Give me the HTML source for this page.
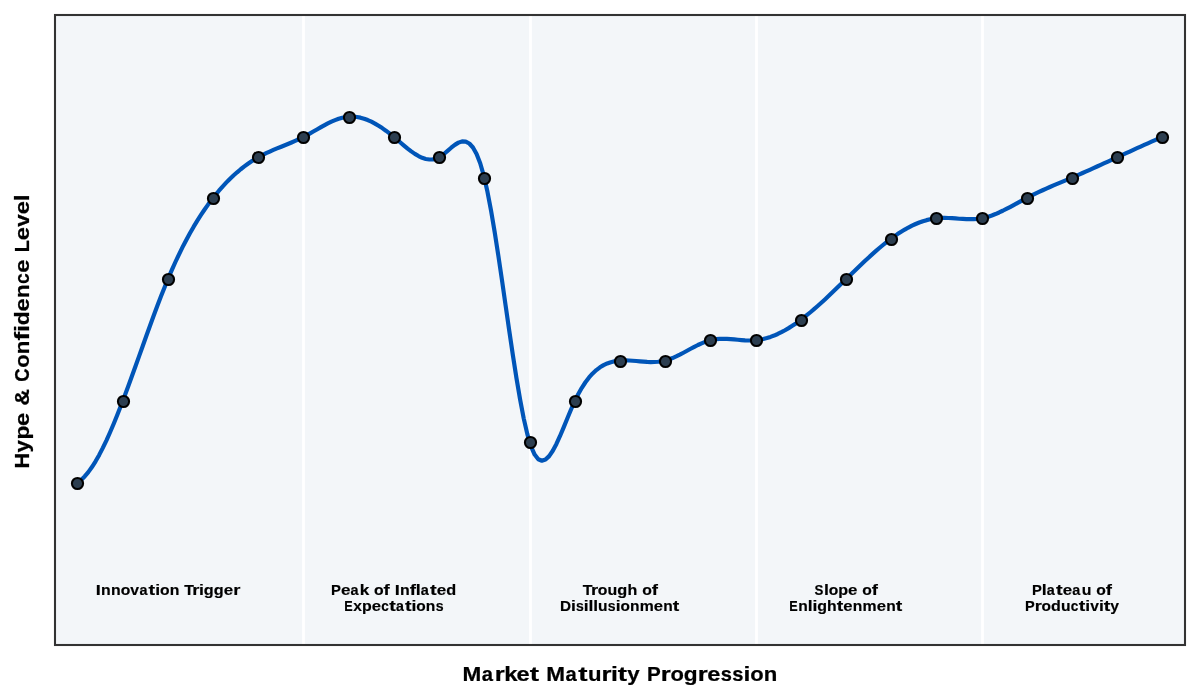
<!DOCTYPE html>
<html><head><meta charset="utf-8"><title>Hype Cycle</title>
<style>
html,body{margin:0;padding:0;background:#fff;}
body{width:1200px;height:700px;overflow:hidden;}
svg{display:block;will-change:transform;}
text{font-family:"Liberation Sans",sans-serif;font-weight:bold;fill:#000;stroke:#000;}
g.s text{stroke-width:0.16px;}
g.b text{stroke-width:0.22px;}
</style></head>
<body>
<svg width="1200" height="700" viewBox="0 0 1200 700">
<rect x="0" y="0" width="1200" height="700" fill="#fff"/>
<rect x="55" y="15" width="1130" height="630" fill="#f3f6f9"/>
<g stroke="#fff" stroke-width="2.78">
<line x1="303.5" y1="15" x2="303.5" y2="645"/>
<line x1="530.5" y1="15" x2="530.5" y2="645"/>
<line x1="756.5" y1="15" x2="756.5" y2="645"/>
<line x1="982.5" y1="15" x2="982.5" y2="645"/>
</g>
<polyline fill="none" stroke="#0055b8" stroke-width="4.17" stroke-linejoin="round" stroke-linecap="butt" points="77.44,482.54 81.07,479.93 84.69,476.44 88.32,472.15 91.95,467.09 95.58,461.33 99.21,454.90 102.84,447.88 106.47,440.31 110.09,432.24 113.72,423.72 117.35,414.81 120.98,405.57 124.61,396.04 128.24,386.27 131.87,376.32 135.49,366.25 139.12,356.10 142.75,345.93 146.38,335.79 150.01,325.73 153.64,315.81 157.27,306.08 160.90,296.59 164.52,287.39 168.15,278.54 171.78,270.08 175.41,262.00 179.04,254.29 182.67,246.94 186.30,239.94 189.92,233.27 193.55,226.93 197.18,220.91 200.81,215.19 204.44,209.75 208.07,204.60 211.70,199.72 215.32,195.09 218.95,190.71 222.58,186.57 226.21,182.66 229.84,178.98 233.47,175.53 237.10,172.29 240.72,169.25 244.35,166.42 247.98,163.78 251.61,161.33 255.24,159.05 258.87,156.96 262.50,155.02 266.13,153.23 269.75,151.55 273.38,149.96 277.01,148.44 280.64,146.95 284.27,145.48 287.90,144.01 291.53,142.49 295.15,140.92 298.78,139.27 302.41,137.51 306.04,135.61 309.67,133.61 313.30,131.54 316.93,129.45 320.55,127.37 324.18,125.36 327.81,123.45 331.44,121.68 335.07,120.11 338.70,118.77 342.33,117.71 345.96,116.96 349.58,116.58 353.21,116.58 356.84,116.95 360.47,117.67 364.10,118.71 367.73,120.06 371.36,121.70 374.98,123.60 378.61,125.74 382.24,128.11 385.87,130.68 389.50,133.43 393.13,136.34 396.76,139.39 400.38,142.50 404.01,145.60 407.64,148.59 411.27,151.39 414.90,153.91 418.53,156.07 422.16,157.79 425.79,158.96 429.41,159.51 433.04,159.36 436.67,158.41 440.30,156.59 443.93,153.97 447.56,150.90 451.19,147.74 454.81,144.87 458.44,142.64 462.07,141.42 465.70,141.58 469.33,143.48 472.96,147.49 476.59,153.97 480.21,163.29 483.84,175.81 487.47,191.80 491.10,210.85 494.73,232.36 498.36,255.71 501.99,280.28 505.61,305.44 509.24,330.58 512.87,355.09 516.50,378.34 520.13,399.72 523.76,418.60 527.39,434.37 531.02,446.42 534.64,454.59 538.27,459.23 541.90,460.77 545.53,459.60 549.16,456.13 552.79,450.77 556.42,443.92 560.04,435.99 563.67,427.38 567.30,418.50 570.93,409.76 574.56,401.56 578.19,394.23 581.82,387.81 585.44,382.25 589.07,377.47 592.70,373.43 596.33,370.06 599.96,367.30 603.59,365.11 607.22,363.41 610.85,362.16 614.47,361.29 618.10,360.74 621.73,360.47 625.36,360.40 628.99,360.51 632.62,360.73 636.25,361.03 639.87,361.36 643.50,361.67 647.13,361.91 650.76,362.05 654.39,362.02 658.02,361.79 661.65,361.31 665.27,360.54 668.90,359.43 672.53,358.05 676.16,356.43 679.79,354.64 683.42,352.73 687.05,350.76 690.67,348.78 694.30,346.84 697.93,345.01 701.56,343.33 705.19,341.86 708.82,340.66 712.45,339.77 716.08,339.20 719.70,338.90 723.33,338.82 726.96,338.92 730.59,339.14 734.22,339.44 737.85,339.77 741.48,340.08 745.10,340.33 748.73,340.46 752.36,340.44 755.99,340.21 759.62,339.73 763.25,339.02 766.88,338.08 770.50,336.92 774.13,335.55 777.76,333.97 781.39,332.21 785.02,330.26 788.65,328.13 792.28,325.85 795.91,323.40 799.53,320.81 803.16,318.09 806.79,315.23 810.42,312.26 814.05,309.19 817.68,306.02 821.31,302.77 824.93,299.44 828.56,296.05 832.19,292.61 835.82,289.12 839.45,285.61 843.08,282.07 846.71,278.52 850.33,274.98 853.96,271.45 857.59,267.94 861.22,264.46 864.85,261.04 868.48,257.67 872.11,254.36 875.73,251.14 879.36,248.01 882.99,244.99 886.62,242.07 890.25,239.28 893.88,236.63 897.51,234.12 901.14,231.77 904.76,229.57 908.39,227.54 912.02,225.69 915.65,224.01 919.28,222.53 922.91,221.24 926.54,220.15 930.16,219.27 933.79,218.61 937.42,218.18 941.05,217.95 944.68,217.91 948.31,218.00 951.94,218.20 955.56,218.44 959.19,218.71 962.82,218.95 966.45,219.12 970.08,219.20 973.71,219.12 977.34,218.87 980.97,218.38 984.59,217.64 988.22,216.65 991.85,215.44 995.48,214.04 999.11,212.47 1002.74,210.76 1006.37,208.94 1009.99,207.04 1013.62,205.08 1017.25,203.09 1020.88,201.11 1024.51,199.15 1028.14,197.25 1031.77,195.41 1035.39,193.64 1039.02,191.92 1042.65,190.25 1046.28,188.62 1049.91,187.03 1053.54,185.46 1057.17,183.91 1060.80,182.37 1064.42,180.84 1068.05,179.30 1071.68,177.75 1075.31,176.19 1078.94,174.61 1082.57,173.01 1086.20,171.40 1089.82,169.78 1093.45,168.15 1097.08,166.51 1100.71,164.85 1104.34,163.20 1107.97,161.53 1111.60,159.87 1115.22,158.20 1118.85,156.53 1122.48,154.86 1126.11,153.20 1129.74,151.53 1133.37,149.87 1137.00,148.22 1140.62,146.58 1144.25,144.95 1147.88,143.32 1151.51,141.71 1155.14,140.11 1158.77,138.53 1162.40,136.97"/>
<g fill="#2c3e50" stroke="#000" stroke-width="2.08">
<circle cx="77.5" cy="483.5" r="5.56"/>
<circle cx="123.5" cy="401.5" r="5.56"/>
<circle cx="168.5" cy="279.5" r="5.56"/>
<circle cx="213.5" cy="198.5" r="5.56"/>
<circle cx="258.5" cy="157.5" r="5.56"/>
<circle cx="303.5" cy="137.5" r="5.56"/>
<circle cx="349.5" cy="117.5" r="5.56"/>
<circle cx="394.5" cy="137.5" r="5.56"/>
<circle cx="439.5" cy="157.5" r="5.56"/>
<circle cx="484.5" cy="178.5" r="5.56"/>
<circle cx="530.5" cy="442.5" r="5.56"/>
<circle cx="575.5" cy="401.5" r="5.56"/>
<circle cx="620.5" cy="361.5" r="5.56"/>
<circle cx="665.5" cy="361.5" r="5.56"/>
<circle cx="710.5" cy="340.5" r="5.56"/>
<circle cx="756.5" cy="340.5" r="5.56"/>
<circle cx="801.5" cy="320.5" r="5.56"/>
<circle cx="846.5" cy="279.5" r="5.56"/>
<circle cx="891.5" cy="239.5" r="5.56"/>
<circle cx="936.5" cy="218.5" r="5.56"/>
<circle cx="982.5" cy="218.5" r="5.56"/>
<circle cx="1027.5" cy="198.5" r="5.56"/>
<circle cx="1072.5" cy="178.5" r="5.56"/>
<circle cx="1117.5" cy="157.5" r="5.56"/>
<circle cx="1162.5" cy="137.5" r="5.56"/>
</g>
<rect x="55" y="15" width="1130" height="630" fill="none" stroke="#333" stroke-width="2.08"/>
<g class="s" font-size="13.889" transform="translate(0 595.00)"><text transform="translate(95.79 0) scale(1.305 1.060)">I</text><text transform="translate(101.02 0) scale(1.139 1.040)">n</text><text transform="translate(110.91 0) scale(1.139 1.040)">n</text><text transform="translate(120.66 0) scale(1.129 1.041)">o</text><text transform="translate(130.37 0) scale(1.136 1.035)">v</text><text transform="translate(139.45 0) scale(1.038 1.041)">a</text><text transform="translate(148.59 0) scale(1.432 1.076)">t</text><text transform="translate(155.22 0) scale(1.274 1.049)">i</text><text transform="translate(160.03 0) scale(1.129 1.041)">o</text><text transform="translate(169.72 0) scale(1.139 1.040)">n</text><text transform="translate(184.21 0) scale(1.141 1.060)">T</text><text transform="translate(192.23 0) scale(1.319 1.040)">r</text><text transform="translate(199.05 0) scale(1.274 1.049)">i</text><text transform="translate(203.84 0) scale(1.167 1.038)">g</text><text transform="translate(213.78 0) scale(1.167 1.038)">g</text><text transform="translate(223.71 0) scale(1.216 1.041)">e</text><text transform="translate(233.15 0) scale(1.319 1.040)">r</text></g>
<g class="s" font-size="13.889" transform="translate(0 595.00)"><text transform="translate(331.01 0) scale(1.067 1.060)">P</text><text transform="translate(340.90 0) scale(1.223 1.041)">e</text><text transform="translate(350.61 0) scale(1.044 1.041)">a</text><text transform="translate(359.84 0) scale(1.239 1.049)">k</text><text transform="translate(374.01 0) scale(1.135 1.041)">o</text><text transform="translate(383.57 0) scale(1.345 1.049)">f</text><text transform="translate(394.63 0) scale(1.313 1.060)">I</text><text transform="translate(399.89 0) scale(1.145 1.040)">n</text><text transform="translate(409.66 0) scale(1.345 1.049)">f</text><text transform="translate(415.72 0) scale(1.282 1.049)">l</text><text transform="translate(420.76 0) scale(1.044 1.041)">a</text><text transform="translate(429.95 0) scale(1.441 1.076)">t</text><text transform="translate(436.63 0) scale(1.223 1.041)">e</text><text transform="translate(446.13 0) scale(1.172 1.049)">d</text></g>
<g class="s" font-size="13.889" transform="translate(0 611.00)"><text transform="translate(344.15 0) scale(0.912 1.060)">E</text><text transform="translate(353.21 0) scale(1.120 1.035)">x</text><text transform="translate(362.06 0) scale(1.150 1.038)">p</text><text transform="translate(371.72 0) scale(1.200 1.041)">e</text><text transform="translate(381.14 0) scale(0.978 1.041)">c</text><text transform="translate(389.16 0) scale(1.414 1.076)">t</text><text transform="translate(395.95 0) scale(1.025 1.041)">a</text><text transform="translate(404.97 0) scale(1.414 1.076)">t</text><text transform="translate(411.52 0) scale(1.258 1.049)">i</text><text transform="translate(416.28 0) scale(1.114 1.041)">o</text><text transform="translate(425.84 0) scale(1.125 1.040)">n</text><text transform="translate(435.70 0) scale(1.021 1.040)">s</text></g>
<g class="s" font-size="13.889" transform="translate(0 595.00)"><text transform="translate(582.82 0) scale(1.148 1.060)">T</text><text transform="translate(590.89 0) scale(1.327 1.040)">r</text><text transform="translate(597.81 0) scale(1.135 1.041)">o</text><text transform="translate(607.53 0) scale(1.146 1.035)">u</text><text transform="translate(617.33 0) scale(1.174 1.038)">g</text><text transform="translate(627.43 0) scale(1.155 1.049)">h</text><text transform="translate(642.18 0) scale(1.135 1.041)">o</text><text transform="translate(651.74 0) scale(1.345 1.049)">f</text></g>
<g class="s" font-size="13.889" transform="translate(0 611.00)"><text transform="translate(559.98 0) scale(1.100 1.060)">D</text><text transform="translate(571.01 0) scale(1.253 1.049)">i</text><text transform="translate(575.97 0) scale(1.016 1.040)">s</text><text transform="translate(583.82 0) scale(1.253 1.049)">i</text><text transform="translate(588.50 0) scale(1.253 1.049)">l</text><text transform="translate(593.19 0) scale(1.253 1.049)">l</text><text transform="translate(598.04 0) scale(1.119 1.035)">u</text><text transform="translate(607.87 0) scale(1.016 1.040)">s</text><text transform="translate(615.72 0) scale(1.253 1.049)">i</text><text transform="translate(620.45 0) scale(1.109 1.041)">o</text><text transform="translate(629.97 0) scale(1.119 1.040)">n</text><text transform="translate(639.66 0) scale(1.137 1.040)">m</text><text transform="translate(653.74 0) scale(1.195 1.041)">e</text><text transform="translate(663.19 0) scale(1.119 1.040)">n</text><text transform="translate(672.73 0) scale(1.408 1.076)">t</text></g>
<g class="s" font-size="13.889" transform="translate(0 595.00)"><text transform="translate(814.62 0) scale(0.957 1.063)">S</text><text transform="translate(823.91 0) scale(1.270 1.049)">l</text><text transform="translate(828.71 0) scale(1.125 1.041)">o</text><text transform="translate(838.33 0) scale(1.161 1.038)">p</text><text transform="translate(848.08 0) scale(1.211 1.041)">e</text><text transform="translate(862.33 0) scale(1.125 1.041)">o</text><text transform="translate(871.80 0) scale(1.332 1.049)">f</text></g>
<g class="s" font-size="13.889" transform="translate(0 611.00)"><text transform="translate(789.15 0) scale(0.911 1.060)">E</text><text transform="translate(798.23 0) scale(1.123 1.040)">n</text><text transform="translate(807.79 0) scale(1.257 1.049)">l</text><text transform="translate(812.49 0) scale(1.257 1.049)">i</text><text transform="translate(817.22 0) scale(1.152 1.038)">g</text><text transform="translate(827.12 0) scale(1.133 1.049)">h</text><text transform="translate(836.77 0) scale(1.413 1.076)">t</text><text transform="translate(843.31 0) scale(1.199 1.041)">e</text><text transform="translate(852.79 0) scale(1.123 1.040)">n</text><text transform="translate(862.52 0) scale(1.141 1.040)">m</text><text transform="translate(876.65 0) scale(1.199 1.041)">e</text><text transform="translate(886.13 0) scale(1.123 1.040)">n</text><text transform="translate(895.70 0) scale(1.413 1.076)">t</text></g>
<g class="s" font-size="13.889" transform="translate(0 595.00)"><text transform="translate(1032.01 0) scale(1.062 1.060)">P</text><text transform="translate(1041.85 0) scale(1.276 1.049)">l</text><text transform="translate(1046.86 0) scale(1.039 1.041)">a</text><text transform="translate(1056.01 0) scale(1.434 1.076)">t</text><text transform="translate(1062.65 0) scale(1.217 1.041)">e</text><text transform="translate(1072.32 0) scale(1.039 1.041)">a</text><text transform="translate(1081.64 0) scale(1.140 1.035)">u</text><text transform="translate(1096.26 0) scale(1.130 1.041)">o</text><text transform="translate(1105.77 0) scale(1.338 1.049)">f</text></g>
<g class="s" font-size="13.889" transform="translate(0 611.00)"><text transform="translate(1025.03 0) scale(1.049 1.060)">P</text><text transform="translate(1034.77 0) scale(1.304 1.040)">r</text><text transform="translate(1041.57 0) scale(1.116 1.041)">o</text><text transform="translate(1050.98 0) scale(1.152 1.049)">d</text><text transform="translate(1060.96 0) scale(1.126 1.035)">u</text><text transform="translate(1070.70 0) scale(0.979 1.041)">c</text><text transform="translate(1078.72 0) scale(1.416 1.076)">t</text><text transform="translate(1085.28 0) scale(1.260 1.049)">i</text><text transform="translate(1090.21 0) scale(1.123 1.035)">v</text><text transform="translate(1098.95 0) scale(1.260 1.049)">i</text><text transform="translate(1103.67 0) scale(1.416 1.076)">t</text><text transform="translate(1110.34 0) scale(1.132 1.035)">y</text></g>
<g class="b" font-size="19.444" transform="translate(0 681.00)"><text transform="translate(462.49 0) scale(1.160 1.060)">M</text><text transform="translate(481.81 0) scale(1.038 1.041)">a</text><text transform="translate(494.63 0) scale(1.319 1.040)">r</text><text transform="translate(504.24 0) scale(1.232 1.049)">k</text><text transform="translate(516.62 0) scale(1.216 1.041)">e</text><text transform="translate(529.81 0) scale(1.432 1.076)">t</text><text transform="translate(546.24 0) scale(1.160 1.060)">M</text><text transform="translate(565.56 0) scale(1.038 1.041)">a</text><text transform="translate(578.36 0) scale(1.432 1.076)">t</text><text transform="translate(587.88 0) scale(1.139 1.035)">u</text><text transform="translate(601.53 0) scale(1.319 1.040)">r</text><text transform="translate(611.08 0) scale(1.274 1.049)">i</text><text transform="translate(617.76 0) scale(1.432 1.076)">t</text><text transform="translate(627.20 0) scale(1.145 1.035)">y</text><text transform="translate(646.99 0) scale(1.061 1.060)">P</text><text transform="translate(660.78 0) scale(1.319 1.040)">r</text><text transform="translate(670.41 0) scale(1.129 1.041)">o</text><text transform="translate(683.73 0) scale(1.167 1.038)">g</text><text transform="translate(697.66 0) scale(1.319 1.040)">r</text><text transform="translate(707.22 0) scale(1.216 1.041)">e</text><text transform="translate(720.79 0) scale(1.034 1.040)">s</text><text transform="translate(732.37 0) scale(1.034 1.040)">s</text><text transform="translate(743.55 0) scale(1.274 1.049)">i</text><text transform="translate(750.29 0) scale(1.129 1.041)">o</text><text transform="translate(763.85 0) scale(1.139 1.040)">n</text></g>
<g class="b" font-size="19.444" transform="translate(29.00 700) rotate(-90)"><text transform="translate(231.55 0) scale(1.114 1.060)">H</text><text transform="translate(247.59 0) scale(1.148 1.035)">y</text><text transform="translate(260.38 0) scale(1.168 1.038)">p</text><text transform="translate(274.11 0) scale(1.219 1.041)">e</text><text transform="translate(294.36 0) scale(1.193 1.073)">&amp;</text><text transform="translate(318.21 0) scale(0.951 1.063)">C</text><text transform="translate(332.28 0) scale(1.131 1.041)">o</text><text transform="translate(345.87 0) scale(1.142 1.040)">n</text><text transform="translate(359.51 0) scale(1.340 1.049)">f</text><text transform="translate(367.97 0) scale(1.278 1.049)">i</text><text transform="translate(374.69 0) scale(1.168 1.049)">d</text><text transform="translate(388.61 0) scale(1.219 1.041)">e</text><text transform="translate(402.10 0) scale(1.142 1.040)">n</text><text transform="translate(415.89 0) scale(0.993 1.041)">c</text><text transform="translate(427.28 0) scale(1.219 1.041)">e</text><text transform="translate(447.85 0) scale(1.012 1.060)">L</text><text transform="translate(459.71 0) scale(1.219 1.041)">e</text><text transform="translate(473.23 0) scale(1.139 1.035)">v</text><text transform="translate(485.64 0) scale(1.219 1.041)">e</text><text transform="translate(498.86 0) scale(1.278 1.049)">l</text></g>
</svg>
</body></html>
